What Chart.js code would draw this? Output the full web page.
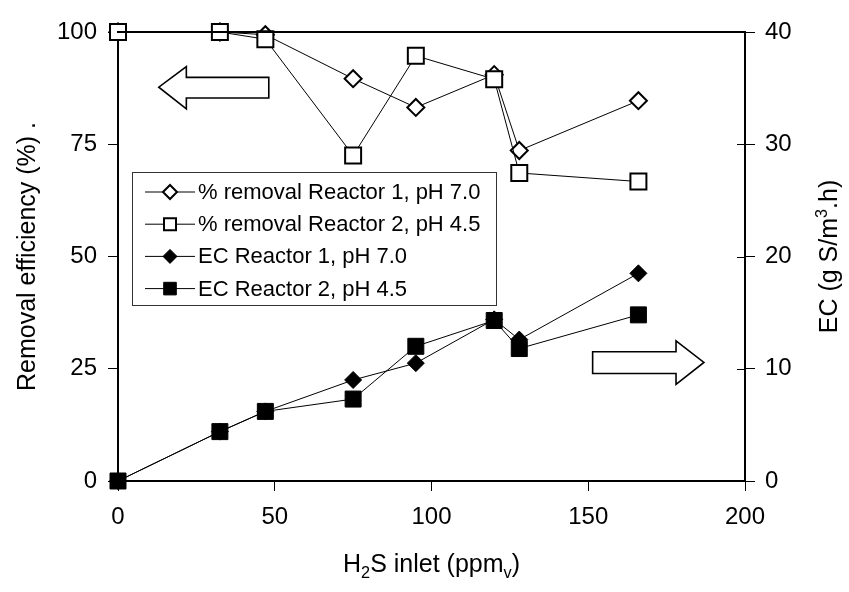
<!DOCTYPE html>
<html>
<head>
<meta charset="utf-8">
<script src="https://cdn.jsdelivr.net/npm/chart.js"></script>
<style>
  body { margin: 0; background: #fff; }
  #wrap { width: 849px; height: 592px; }
</style>
</head>
<body>
<div id="wrap"><canvas id="chart" width="849" height="592"></canvas></div>
<script>
// H2S inlet concentration (ppmv) and the measured responses of both reactors
const inletPpm = [0, 32.5, 47, 75, 95, 120, 128, 166];
const removalR1 = [100, 100, 99.4, 89.6, 83.2, 90.5, 73.6, 84.7];
const removalR2 = [100, 100, 98.4, 72.5, 94.7, 89.5, 68.6, 66.7];
const ecR1 = [0, 4.4, 6.2, 9.0, 10.5, 14.4, 12.6, 18.5];
const ecR2 = [0, 4.4, 6.2, 7.3, 12.0, 14.3, 11.8, 14.8];

const seriesNames = [
  '% removal Reactor 1, pH 7.0',
  '% removal Reactor 2, pH 4.5',
  'EC Reactor 1, pH 7.0',
  'EC Reactor 2, pH 4.5'
];

const xTicks = [0, 50, 100, 150, 200];
const removalTicks = [0, 25, 50, 75, 100];
const ecTicks = [0, 10, 20, 30, 40];

const FONT = "'Liberation Sans', Arial, sans-serif";

const pairs = (xs, ys) => xs.map((x, i) => ({ x, y: ys[i] }));

function series(label, ys, axis, style, filled, order) {
  const r = style === 'rect' ? 11.3 : 8.5;
  return {
    label,
    data: pairs(inletPpm, ys),
    yAxisID: axis,
    showLine: true,
    borderColor: '#000',
    borderWidth: 1,
    pointStyle: style,
    pointRadius: r,
    pointHoverRadius: r,
    pointBackgroundColor: filled ? '#000' : '#fff',
    pointBorderColor: '#000',
    pointBorderWidth: filled ? 1 : 2,
    order,
    clip: false
  };
}

function marker(ctx, x, y, style, filled, r) {
  ctx.beginPath();
  if (style === 'rect') {
    ctx.rect(x - r, y - r, 2 * r, 2 * r);
  } else {
    ctx.moveTo(x - r, y);
    ctx.lineTo(x, y - r);
    ctx.lineTo(x + r, y);
    ctx.lineTo(x, y + r);
    ctx.closePath();
  }
  ctx.fillStyle = filled ? '#000' : '#fff';
  ctx.fill();
  ctx.lineWidth = filled ? 1 : 2;
  ctx.strokeStyle = '#000';
  ctx.stroke();
}

// text made of runs, some of them sub- or superscript
function richText(ctx, parts, size) {
  const widths = parts.map(p => {
    ctx.font = `${p.shift ? size * 0.65 : size}px ${FONT}`;
    return ctx.measureText(p.t).width;
  });
  let x = -widths.reduce((a, b) => a + b, 0) / 2;
  parts.forEach((p, i) => {
    ctx.font = `${p.shift ? size * 0.65 : size}px ${FONT}`;
    const dy = p.shift === 'sub' ? size * 0.22 : p.shift === 'sup' ? -size * 0.42 : 0;
    ctx.fillText(p.t, x, dy);
    x += widths[i];
  });
}

// block arrows pointing at the axis each pair of series belongs to (left-axis units)
const arrowLeft = [[48.1, 89.9], [21.8, 89.9], [21.8, 92.3], [13.0, 87.7], [21.8, 82.9], [21.8, 85.3], [48.1, 85.3]];
const arrowRight = [[151.4, 28.8], [178.0, 28.8], [178.0, 31.2], [186.9, 26.4], [178.0, 21.5], [178.0, 23.95], [151.4, 23.95]];

const decorations = {
  id: 'decorations',
  afterDraw(chart) {
    const { ctx, chartArea: a, scales } = chart;
    ctx.save();

    // top frame line and the inner half of the right-hand ticks
    ctx.strokeStyle = '#000';
    ctx.lineWidth = 2;
    ctx.beginPath();
    ctx.moveTo(a.left - 1, a.top);
    ctx.lineTo(a.right + 1, a.top);
    ctx.stroke();
    ctx.lineWidth = 1;
    ecTicks.forEach(v => {
      const y = Math.round(scales.y1.getPixelForValue(v)) + 0.5;
      ctx.beginPath();
      ctx.moveTo(a.right - 8, y);
      ctx.lineTo(a.right, y);
      ctx.stroke();
    });

    // arrows
    [arrowLeft, arrowRight].forEach(shape => {
      ctx.beginPath();
      shape.forEach(([x, y], i) => {
        const px = scales.x.getPixelForValue(x);
        const py = scales.y.getPixelForValue(y);
        if (i === 0) ctx.moveTo(px, py); else ctx.lineTo(px, py);
      });
      ctx.closePath();
      ctx.fillStyle = '#fff';
      ctx.fill();
      ctx.lineWidth = 1.6;
      ctx.strokeStyle = '#000';
      ctx.stroke();
    });

    // legend box
    const box = { l: 132, t: 172, r: 496, b: 305 };
    ctx.fillStyle = '#fff';
    ctx.fillRect(box.l, box.t, box.r - box.l, box.b - box.t);
    ctx.lineWidth = 1;
    ctx.strokeStyle = '#333';
    ctx.strokeRect(box.l + 0.5, box.t + 0.5, box.r - box.l, box.b - box.t);
    const styles = [['rectRot', false, 7], ['rect', false, 6], ['rectRot', true, 7], ['rect', true, 6.3]];
    seriesNames.forEach((name, i) => {
      const y = 192 + i * 32.2;
      ctx.lineWidth = 1;
      ctx.strokeStyle = '#000';
      ctx.beginPath();
      ctx.moveTo(145, y);
      ctx.lineTo(195, y);
      ctx.stroke();
      marker(ctx, 170, y, ...styles[i]);
      ctx.fillStyle = '#000';
      ctx.font = `22px ${FONT}`;
      ctx.textAlign = 'left';
      ctx.textBaseline = 'middle';
      ctx.fillText(name, 198, y + 1);
    });

    // axis titles
    ctx.fillStyle = '#000';
    ctx.textAlign = 'left';
    ctx.textBaseline = 'alphabetic';
    const midY = (a.top + a.bottom) / 2;

    ctx.save();
    ctx.translate((a.left + a.right) / 2, 572);
    richText(ctx, [{ t: 'H' }, { t: '2', shift: 'sub' }, { t: 'S inlet (ppm' }, { t: 'v', shift: 'sub' }, { t: ')' }], 25);
    ctx.restore();

    ctx.save();
    ctx.translate(35, midY);
    ctx.rotate(-Math.PI / 2);
    richText(ctx, [{ t: 'Removal efficiency (%) .' }], 25);
    ctx.restore();

    ctx.save();
    ctx.translate(837, midY);
    ctx.rotate(-Math.PI / 2);
    richText(ctx, [{ t: 'EC (g S/m' }, { t: '3', shift: 'sup' }, { t: '.h)' }], 25);
    ctx.restore();

    ctx.restore();
  }
};

const tickFont = { family: FONT, size: 24 };
const axisCommon = {
  type: 'linear',
  grid: { drawOnChartArea: false, tickLength: 10, tickColor: '#000', tickWidth: 1 },
  border: { display: true, color: '#000', width: 2 },
  title: { display: false }
};

new Chart(document.getElementById('chart'), {
  type: 'scatter',
  data: {
    datasets: [
      series(seriesNames[0], removalR1, 'y', 'rectRot', false, 3),
      series(seriesNames[1], removalR2, 'y', 'rect', false, 2),
      series(seriesNames[2], ecR1, 'y1', 'rectRot', true, 3),
      series(seriesNames[3], ecR2, 'y1', 'rect', true, 1)
    ]
  },
  options: {
    responsive: false,
    animation: false,
    events: [],
    layout: { padding: { top: 32, left: 0, right: 0, bottom: 0 } },
    plugins: { legend: { display: false }, tooltip: { enabled: false } },
    scales: {
      x: {
        ...axisCommon,
        position: 'bottom',
        min: 0,
        max: 200,
        afterBuildTicks: s => { s.ticks = xTicks.map(value => ({ value })); },
        afterFit: s => { s.height = 111; },
        ticks: { font: tickFont, color: '#000', padding: 12, maxRotation: 0 }
      },
      y: {
        ...axisCommon,
        position: 'left',
        min: 0,
        max: 100,
        afterBuildTicks: s => { s.ticks = removalTicks.map(value => ({ value })); },
        afterFit: s => { s.width = 118; },
        ticks: { font: tickFont, color: '#000', padding: 11 }
      },
      y1: {
        ...axisCommon,
        position: 'right',
        min: 0,
        max: 40,
        afterBuildTicks: s => { s.ticks = ecTicks.map(value => ({ value })); },
        afterFit: s => { s.width = 104; },
        ticks: { font: tickFont, color: '#000', padding: 10 }
      }
    }
  },
  plugins: [decorations]
});
</script>
</body>
</html>
